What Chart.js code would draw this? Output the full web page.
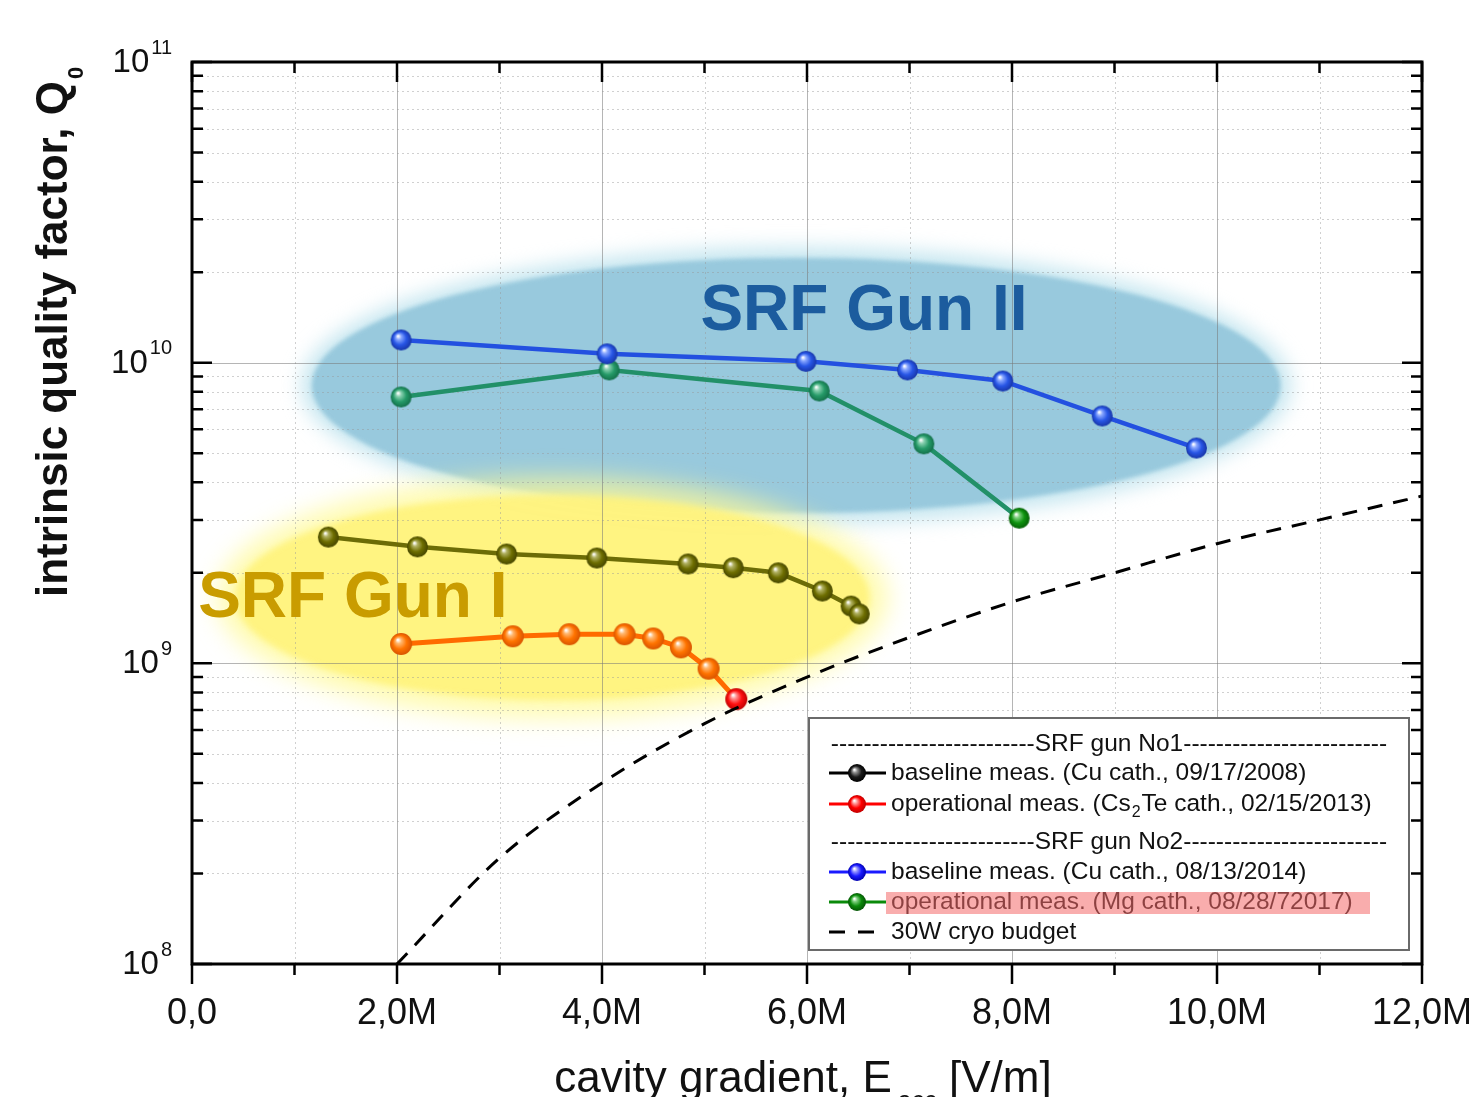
<!DOCTYPE html>
<html>
<head>
<meta charset="utf-8">
<script src="https://cdn.jsdelivr.net/npm/chart.js@4.4.1/dist/chart.umd.min.js"></script>
<style>
  html, body { margin: 0; padding: 0; background: #fff; }
  canvas { display: block; }
</style>
</head>
<body>
<canvas id="q0Chart" width="1469" height="1097"></canvas>
<script>
// values: cavity gradient in V/m, Q0
const gun1BaseE = [1.33e6, 2.20e6, 3.07e6, 3.95e6, 4.84e6, 5.28e6, 5.72e6, 6.15e6, 6.43e6, 6.51e6];
const gun1BaseQ = [2.63e9, 2.44e9, 2.31e9, 2.24e9, 2.14e9, 2.08e9, 2.00e9, 1.74e9, 1.55e9, 1.46e9];
const gun1OperE = [2.04e6, 3.13e6, 3.68e6, 4.22e6, 4.50e6, 4.77e6, 5.04e6, 5.31e6];
const gun1OperQ = [1.16e9, 1.23e9, 1.25e9, 1.25e9, 1.21e9, 1.13e9, 9.6e8, 7.6e8];
const gun2BaseE = [2.04e6, 4.05e6, 5.99e6, 6.98e6, 7.91e6, 8.88e6, 9.80e6];
const gun2BaseQ = [1.19e10, 1.07e10, 1.01e10, 9.46e9, 8.69e9, 6.65e9, 5.20e9];
const gun2OperE = [2.04e6, 4.07e6, 6.12e6, 7.14e6, 8.07e6];
const gun2OperQ = [7.69e9, 9.46e9, 8.05e9, 5.37e9, 3.04e9];
const cryoE = [2e6, 3e6, 4e6, 5e6, 6e6, 7e6, 8e6, 9e6, 10e6, 11e6, 12e6];
const cryoQ = [1.0e8, 2.25e8, 4.0e8, 6.3e8, 9.0e8, 1.22e9, 1.6e9, 2.0e9, 2.5e9, 3.0e9, 3.6e9];

const xTickLabels = ['0,0', '', '2,0M', '', '4,0M', '', '6,0M', '', '8,0M', '', '10,0M', '', '12,0M'];
const yDecades = [8, 9, 10, 11];
const yMinor = [2, 3, 4, 5, 6, 7, 8, 9];

const legendHeaders = ['SRF gun No1', 'SRF gun No2'];
const legendLabels = [
  'baseline meas. (Cu cath., 09/17/2008)',
  ['operational meas. (Cs', '2', 'Te cath., 02/15/2013)'],
  'baseline meas. (Cu cath., 08/13/2014)',
  'operational meas. (Mg cath., 08/28/72017)',
  '30W cryo budget'
];

// highlighted regions (data units)
const gun2Region = { x: [1.17e6, 10.62e6], y: [3.16e9, 2.23e10] };
const gun1Region = { x: [0.42e6, 6.61e6], y: [7.55e8, 3.63e9] };
const gun2Note = { text: 'SRF Gun II', x: 4.96e6, y: 1.285e10 };
const gun1Note = { text: 'SRF Gun I', x: 0.06e6, y: 1.43e9 };

const FONT = "'Liberation Sans', Arial, sans-serif";

function ball(base, light, shade, r) {
  const c = document.createElement('canvas');
  const s = Math.ceil(r * 2 + 2);
  c.width = c.height = s;
  const g = c.getContext('2d');
  const cx = s / 2, cy = s / 2;
  const grad = g.createRadialGradient(cx - r * 0.3, cy - r * 0.38, r * 0.05, cx, cy, r);
  grad.addColorStop(0, '#ffffff');
  grad.addColorStop(0.22, light);
  grad.addColorStop(0.6, base);
  grad.addColorStop(1, shade);
  g.fillStyle = grad;
  g.beginPath();
  g.arc(cx, cy, r, 0, Math.PI * 2);
  g.fill();
  return c;
}

const balls = {
  olive: ball('#6e6e00', '#b0b060', '#464600', 10.5),
  orange: ball('#ff7400', '#ffb870', '#d85400', 11),
  red: ball('#ff1010', '#ff9090', '#c00000', 11),
  blue: ball('#2856e6', '#8aa8ff', '#1836a8', 10.5),
  teal: ball('#259a68', '#88d0b0', '#14704a', 10.5),
  green: ball('#0f940f', '#80d080', '#066006', 10.5),
  kBlack: ball('#1a1a1a', '#909090', '#000000', 9),
  kRed: ball('#ff0000', '#ff9a9a', '#c00000', 9),
  kBlue: ball('#1a1aff', '#9a9aff', '#0000b0', 9),
  kGreen: ball('#0a8a0a', '#80d080', '#055505', 9)
};

function pts(xs, ys) {
  return xs.map((x, i) => ({ x: x, y: ys[i] }));
}

function ellipse(ctx, chart, r, grow, fill, blur) {
  const sx = chart.scales.x, sy = chart.scales.y;
  const x0 = sx.getPixelForValue(r.x[0]), x1 = sx.getPixelForValue(r.x[1]);
  const y0 = sy.getPixelForValue(r.y[1]), y1 = sy.getPixelForValue(r.y[0]);
  ctx.save();
  ctx.filter = 'blur(' + blur + 'px)';
  ctx.fillStyle = fill;
  ctx.beginPath();
  ctx.ellipse((x0 + x1) / 2, (y0 + y1) / 2, (x1 - x0) / 2 + grow, (y1 - y0) / 2 + grow, 0, 0, Math.PI * 2);
  ctx.fill();
  ctx.restore();
}

const decorPlugin = {
  id: 'decor',
  beforeDraw(chart) {
    const ctx = chart.ctx;
    ellipse(ctx, chart, gun2Region, 10, 'rgba(180,222,235,0.8)', 10);
    ellipse(ctx, chart, gun2Region, 0, 'rgb(152,201,221)', 2);
    ellipse(ctx, chart, gun1Region, 18, 'rgba(255,249,150,0.75)', 12);
    ellipse(ctx, chart, gun1Region, 0, 'rgba(255,243,125,0.92)', 3);
  },
  beforeDatasetsDraw(chart) {
    const ctx = chart.ctx;
    const { left, right, top, bottom } = chart.chartArea;
    const sx = chart.scales.x, sy = chart.scales.y;
    ctx.save();
    ctx.lineWidth = 1;
    // vertical grid
    for (let m = 1; m < 12; m++) {
      const x = Math.round(sx.getPixelForValue(m * 1e6)) + 0.5;
      if (m % 2 === 0) { ctx.strokeStyle = 'rgba(120,120,120,0.55)'; ctx.setLineDash([]); }
      else { ctx.strokeStyle = 'rgba(150,150,150,0.45)'; ctx.setLineDash([2, 3]); }
      ctx.beginPath(); ctx.moveTo(x, top); ctx.lineTo(x, bottom); ctx.stroke();
    }
    // horizontal grid
    yDecades.slice(0, 3).forEach(e => {
      [1].concat(yMinor).forEach(k => {
        const v = k * Math.pow(10, e);
        if (v === 1e8) return;
        const y = Math.round(sy.getPixelForValue(v)) + 0.5;
        if (k === 1) { ctx.strokeStyle = 'rgba(120,120,120,0.55)'; ctx.setLineDash([]); }
        else { ctx.strokeStyle = 'rgba(150,150,150,0.45)'; ctx.setLineDash([2, 3]); }
        ctx.beginPath(); ctx.moveTo(left, y); ctx.lineTo(right, y); ctx.stroke();
      });
    });
    ctx.setLineDash([]);
    // region names
    ctx.font = 'bold 64px ' + FONT;
    ctx.textBaseline = 'alphabetic';
    ctx.textAlign = 'left';
    ctx.fillStyle = '#1c5c9e';
    ctx.fillText(gun2Note.text, sx.getPixelForValue(gun2Note.x), sy.getPixelForValue(gun2Note.y));
    ctx.fillStyle = '#c99c00';
    ctx.fillText(gun1Note.text, sx.getPixelForValue(gun1Note.x), sy.getPixelForValue(gun1Note.y));
    ctx.restore();
  },
  afterDraw(chart) {
    const ctx = chart.ctx;
    const { left, right, top, bottom } = chart.chartArea;
    const sx = chart.scales.x, sy = chart.scales.y;
    ctx.save();
    // frame
    ctx.strokeStyle = '#000';
    ctx.lineWidth = 3;
    ctx.strokeRect(left, top, right - left, bottom - top);
    // x ticks: outward at bottom, inward at top
    ctx.lineWidth = 2.5;
    for (let m = 0; m <= 12; m++) {
      const x = sx.getPixelForValue(m * 1e6);
      const len = m % 2 === 0 ? 20 : 11;
      ctx.beginPath();
      ctx.moveTo(x, bottom); ctx.lineTo(x, bottom + len);
      ctx.moveTo(x, top); ctx.lineTo(x, top + len);
      ctx.stroke();
    }
    // y ticks: inward on both sides
    yDecades.forEach((e, di) => {
      const ks = di < 3 ? [1].concat(yMinor) : [1];
      ks.forEach(k => {
        const y = sy.getPixelForValue(k * Math.pow(10, e));
        const len = k === 1 ? 20 : 11;
        ctx.beginPath();
        ctx.moveTo(left, y); ctx.lineTo(left + len, y);
        ctx.moveTo(right, y); ctx.lineTo(right - len, y);
        ctx.stroke();
      });
    });
    // y tick labels 10^n
    ctx.fillStyle = '#111';
    ctx.textBaseline = 'middle';
    ctx.textAlign = 'right';
    yDecades.forEach(e => {
      const y = sy.getPixelForValue(Math.pow(10, e));
      ctx.font = '20px ' + FONT;
      const sup = String(e);
      const ws = ctx.measureText(sup).width;
      ctx.fillText(sup, left - 20, y - 14);
      ctx.font = '33px ' + FONT;
      ctx.fillText('10', left - 22 - ws, y + 1);
    });
    // y axis title
    ctx.save();
    ctx.translate(67, 597);
    ctx.rotate(-Math.PI / 2);
    ctx.textAlign = 'left';
    ctx.textBaseline = 'alphabetic';
    ctx.font = 'bold 44px ' + FONT;
    const yt = 'intrinsic quality factor, Q';
    ctx.fillText(yt, 0, 0);
    const wyt = ctx.measureText(yt).width;
    ctx.font = 'bold 22px ' + FONT;
    ctx.fillText('0', wyt + 2, 16);
    ctx.restore();
    // x axis title
    ctx.textAlign = 'left';
    ctx.textBaseline = 'alphabetic';
    const xa = 'cavity gradient, E', xb = 'acc', xc = ' [V/m]';
    ctx.font = '44px ' + FONT;
    const wa = ctx.measureText(xa).width, wc = ctx.measureText(xc).width;
    ctx.font = '25px ' + FONT;
    const wb = ctx.measureText(xb).width;
    let tx = (left + right) / 2 - (wa + wb + wc + 6) / 2 - 4;
    ctx.font = '44px ' + FONT;
    ctx.fillText(xa, tx, 1092);
    ctx.font = '25px ' + FONT;
    ctx.fillText(xb, tx + wa + 6, 1109);
    ctx.font = '44px ' + FONT;
    ctx.fillText(xc, tx + wa + 6 + wb, 1092);

    // legend box
    const bx = right - 613, by = bottom - 246, bw = 600, bh = 232;
    ctx.fillStyle = '#fff';
    ctx.fillRect(bx, by, bw, bh);
    ctx.strokeStyle = '#6a6a6a';
    ctx.lineWidth = 2;
    ctx.strokeRect(bx, by, bw, bh);
    ctx.font = '24.5px ' + FONT;
    ctx.textBaseline = 'middle';
    ctx.fillStyle = '#111';
    const rowY = [26, 55, 86, 124, 154, 184, 214];
    const dashW = ctx.measureText('-').width;
    [0, 3].forEach((ri, hi) => {
      const y = by + rowY[ri];
      const cx = bx + 300;
      ctx.textAlign = 'center';
      const hw = ctx.measureText(legendHeaders[hi]).width;
      ctx.fillText(legendHeaders[hi], cx, y);
      const n = Math.round((cx - hw / 2 - (bx + 21)) / dashW);
      const dashes = '-'.repeat(n);
      ctx.textAlign = 'right';
      ctx.fillText(dashes, cx - hw / 2, y);
      ctx.textAlign = 'left';
      ctx.fillText(dashes, cx + hw / 2, y);
    });
    const samples = [
      { row: 1, color: '#000', img: balls.kBlack },
      { row: 2, color: '#ff0000', img: balls.kRed },
      { row: 4, color: '#1a1aff', img: balls.kBlue },
      { row: 5, color: '#0a8a0a', img: balls.kGreen },
      { row: 6, color: '#000', img: null }
    ];
    ctx.textAlign = 'left';
    samples.forEach((s, i) => {
      const y = by + rowY[s.row];
      ctx.strokeStyle = s.color;
      ctx.lineWidth = 3;
      ctx.beginPath();
      if (s.img) {
        ctx.moveTo(bx + 20, y); ctx.lineTo(bx + 77, y); ctx.stroke();
        ctx.drawImage(s.img, bx + 48 - s.img.width / 2, y - s.img.height / 2);
      } else {
        ctx.setLineDash([16, 13]);
        ctx.moveTo(bx + 20, y); ctx.lineTo(bx + 67, y); ctx.stroke();
        ctx.setLineDash([]);
      }
      const lab = legendLabels[i];
      const tx0 = bx + 82;
      ctx.fillStyle = '#111';
      if (Array.isArray(lab)) {
        ctx.font = '24.5px ' + FONT;
        ctx.fillText(lab[0], tx0, y);
        const w0 = ctx.measureText(lab[0]).width;
        ctx.font = '16px ' + FONT;
        ctx.fillText(lab[1], tx0 + w0 + 1, y + 9);
        const w1 = ctx.measureText(lab[1]).width;
        ctx.font = '24.5px ' + FONT;
        ctx.fillText(lab[2], tx0 + w0 + w1 + 2, y);
      } else {
        ctx.font = '24.5px ' + FONT;
        ctx.fillText(lab, tx0, y);
      }
      if (s.row === 5) {
        ctx.fillStyle = 'rgba(244,105,105,0.55)';
        ctx.fillRect(bx + 77, y - 10, 484, 22);
      }
    });
    ctx.restore();
  }
};

new Chart(document.getElementById('q0Chart'), {
  type: 'line',
  data: {
    datasets: [
      {
        label: '30W cryo budget',
        data: pts(cryoE, cryoQ),
        borderColor: '#000',
        borderWidth: 3,
        borderDash: [15, 11],
        cubicInterpolationMode: 'monotone',
        pointRadius: 0
      },
      {
        label: 'baseline meas. (Cu cath., 09/17/2008)',
        data: pts(gun1BaseE, gun1BaseQ),
        borderColor: '#6c6c06',
        borderWidth: 4.5,
        pointStyle: balls.olive,
        pointRadius: 10
      },
      {
        label: 'operational meas. (Cs2Te cath., 02/15/2013)',
        data: pts(gun1OperE, gun1OperQ),
        borderColor: '#ff6a00',
        borderWidth: 5,
        pointStyle: ctx => ctx.dataIndex === gun1OperE.length - 1 ? balls.red : balls.orange,
        pointRadius: 10
      },
      {
        label: 'baseline meas. (Cu cath., 08/13/2014)',
        data: pts(gun2BaseE, gun2BaseQ),
        borderColor: '#2350e0',
        borderWidth: 4.5,
        pointStyle: balls.blue,
        pointRadius: 10
      },
      {
        label: 'operational meas. (Mg cath., 08/28/72017)',
        data: pts(gun2OperE, gun2OperQ),
        borderColor: '#229068',
        borderWidth: 4.5,
        pointStyle: ctx => ctx.dataIndex === gun2OperE.length - 1 ? balls.green : balls.teal,
        pointRadius: 10
      }
    ]
  },
  options: {
    responsive: false,
    animation: false,
    events: [],
    layout: { padding: { top: 62, right: 0, bottom: 0, left: 0 } },
    plugins: {
      legend: { display: false },
      tooltip: { enabled: false }
    },
    scales: {
      x: {
        type: 'linear',
        min: 0,
        max: 12e6,
        grid: { display: false },
        border: { display: false },
        ticks: {
          stepSize: 1e6,
          autoSkip: false,
          maxRotation: 0,
          padding: 20,
          color: '#111',
          font: { size: 36, family: FONT },
          callback: (v, i) => xTickLabels[i]
        },
        afterFit(scale) {
          scale.height = 133;
          scale.paddingLeft = 0;
          scale.paddingRight = 47;
        }
      },
      y: {
        type: 'logarithmic',
        min: 1e8,
        max: 1e11,
        grid: { display: false },
        border: { display: false },
        ticks: { display: false },
        afterFit(scale) {
          scale.width = 192;
          scale.paddingTop = 0;
          scale.paddingBottom = 0;
        }
      }
    }
  },
  plugins: [decorPlugin]
});
</script>
</body>
</html>
